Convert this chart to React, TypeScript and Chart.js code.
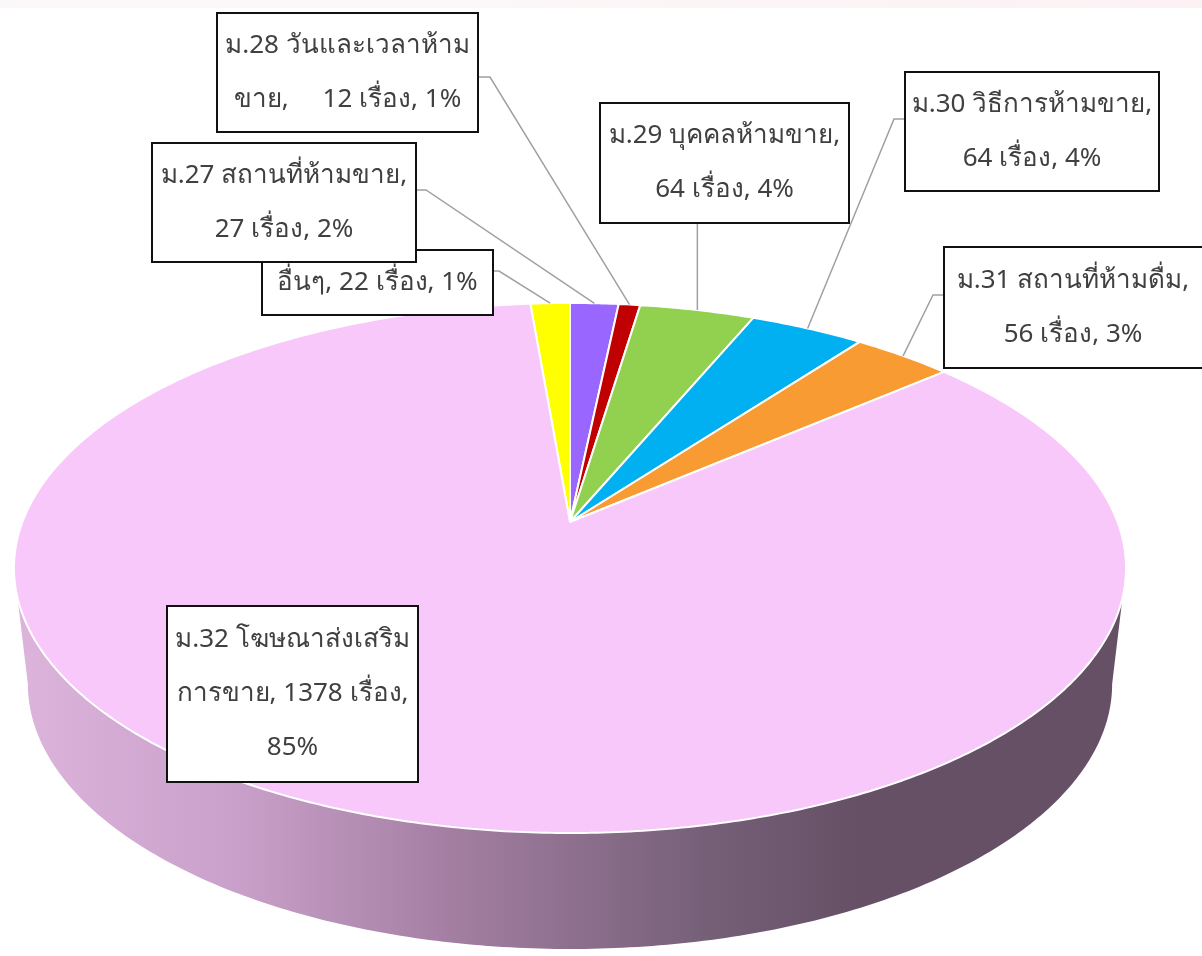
import React, { useEffect, useRef } from 'react';
import { Chart, registerables } from 'chart.js';

Chart.register(...registerables);

// ---------- data ----------
const CATEGORIES = [
  'อื่นๆ',
  'ม.27 สถานที่ห้ามขาย',
  'ม.28 วันและเวลาห้ามขาย',
  'ม.29 บุคคลห้ามขาย',
  'ม.30 วิธีการห้ามขาย',
  'ม.31 สถานที่ห้ามดื่ม',
  'ม.32 โฆษณาส่งเสริมการขาย',
];
const VALUES = [22, 27, 12, 64, 64, 56, 1378];
const UNIT = 'เรื่อง';
const COLORS = ['#FFFF00', '#9966FF', '#C00000', '#92D050', '#00B0F0', '#F99B33', '#F9C8FA'];

// ---------- layout (positions / styles only) ----------
type Leader = { side: 'left' | 'right' | 'bottom'; y?: number; elbow?: number } | null;
const LABEL_LAYOUT: { box: [number, number, number, number]; breaks: string[]; gap?: boolean; leader: Leader }[] = [
  { box: [262, 250, 493, 315], breaks: [], leader: { side: 'right', y: 271, elbow: 499 } },
  { box: [152, 143, 416, 262], breaks: ['ขาย,'], leader: { side: 'right', y: 190, elbow: 426 } },
  { box: [217, 13, 478, 132], breaks: ['ห้าม'], gap: true, leader: { side: 'right', y: 77, elbow: 490 } },
  { box: [600, 103, 849, 223], breaks: ['ขาย,'], leader: { side: 'bottom' } },
  { box: [905, 72, 1159, 191], breaks: ['ขาย,'], leader: { side: 'left', y: 119, elbow: 894 } },
  { box: [944, 247, 1206, 368], breaks: ['ดื่ม,'], leader: { side: 'left', y: 295, elbow: 933 } },
  { box: [167, 606, 418, 782], breaks: ['ส่งเสริม', 'เรื่อง,'], leader: null },
];

// perspective view of the pie's top face
const VIEW = { cx: 570, cy: 522, b: 166.4, c: -0.17358, k: 547.6, depth: 116, shrink: 0.975 };
const FONT = '26px "Noto Sans", "DejaVu Sans", sans-serif';
const LINE_H = 54;

const TAU = Math.PI * 2;

function makeProjector(ex: number, ey: number, R: number) {
  return (x: number, y: number): [number, number] => {
    const u = (x - ex) / R;
    const v = (y - ey) / R;
    const w = 1 + VIEW.c * v;
    return [VIEW.cx + (VIEW.k * u) / w, (VIEW.cy + VIEW.b * v) / w];
  };
}

function projectedCtx(ctx: CanvasRenderingContext2D, P: (x: number, y: number) => [number, number]) {
  return new Proxy(ctx, {
    get(t: any, prop: any) {
      if (prop === 'moveTo') return (x: number, y: number) => { const [X, Y] = P(x, y); t.moveTo(X, Y); };
      if (prop === 'lineTo') return (x: number, y: number) => { const [X, Y] = P(x, y); t.lineTo(X, Y); };
      if (prop === 'arc') {
        return (x: number, y: number, r: number, a0: number, a1: number, ccw?: boolean) => {
          if (!(r > 0) || !isFinite(a0) || !isFinite(a1)) {
            const [X, Y] = P(x, y);
            t.lineTo(X, Y);
            return;
          }
          let sweep: number;
          if (!ccw) {
            sweep = a1 - a0;
            sweep = sweep >= TAU ? TAU : ((sweep % TAU) + TAU) % TAU;
          } else {
            sweep = a0 - a1;
            sweep = sweep >= TAU ? TAU : ((sweep % TAU) + TAU) % TAU;
            sweep = -sweep;
          }
          const n = Math.max(2, Math.ceil(Math.abs(sweep) / 0.01));
          for (let i = 0; i <= n; i++) {
            const a = a0 + (sweep * i) / n;
            const [X, Y] = P(x + r * Math.cos(a), y + r * Math.sin(a));
            t.lineTo(X, Y);
          }
        };
      }
      const v = t[prop];
      return typeof v === 'function' ? v.bind(t) : v;
    },
    set(t: any, prop: any, value: any) {
      t[prop] = value;
      return true;
    },
  });
}

const pie3d = {
  id: 'pie3d',
  beforeDatasetDraw(chart: any, args: any) {
    const ctx: CanvasRenderingContext2D = chart.ctx;
    const els = args.meta.data;
    if (!els.length) return false;
    const el0 = els[0];
    const P = makeProjector(el0.x, el0.y, el0.outerRadius);
    const R = el0.outerRadius;
    const rim = (a: number) => P(el0.x + R * Math.cos(a), el0.y + R * Math.sin(a));
    const bottom = (p: [number, number]): [number, number] => [
      VIEW.cx + (p[0] - VIEW.cx) * VIEW.shrink,
      p[1] + VIEW.depth,
    ];
    // side wall
    const a1 = Math.asin(-VIEW.c);
    const a2 = Math.PI - a1;
    const N = 240;
    ctx.save();
    ctx.beginPath();
    for (let i = 0; i <= N; i++) {
      const p = rim(a1 + ((a2 - a1) * i) / N);
      if (i === 0) ctx.moveTo(p[0], p[1]); else ctx.lineTo(p[0], p[1]);
    }
    for (let i = N; i >= 0; i--) {
      const p = bottom(rim(a1 + ((a2 - a1) * i) / N));
      ctx.lineTo(p[0], p[1]);
    }
    ctx.closePath();
    const left = rim(a2)[0];
    const right = rim(a1)[0];
    const g = ctx.createLinearGradient(left, 0, right, 0);
    g.addColorStop(0, '#DCB4DC');
    g.addColorStop(0.2, '#C9A0C9');
    g.addColorStop(0.39, '#A47FA3');
    g.addColorStop(0.5, '#8E708E');
    g.addColorStop(0.62, '#766078');
    g.addColorStop(0.76, '#655066');
    g.addColorStop(1, '#655066');
    ctx.fillStyle = g;
    ctx.fill();
    ctx.restore();

    // top face: the library's own arc elements, drawn through the perspective
    const pctx = projectedCtx(ctx, P);
    els.forEach((el: any) => el.draw(pctx, chart.chartArea));
    return false;
  },
};

function labelLines(i: number, total: number, breaks: string[], gap?: boolean) {
  const pct = Math.round((VALUES[i] / total) * 100);
  let rest = `${CATEGORIES[i]}, ${VALUES[i]} ${UNIT}, ${pct}%`;
  const lines: string[] = [];
  for (const b of breaks) {
    const idx = rest.indexOf(b);
    if (idx < 0) continue;
    lines.push(rest.slice(0, idx + b.length).trim());
    rest = rest.slice(idx + b.length).trim();
  }
  lines.push(rest);
  if (gap && lines.length > 1) lines[1] = lines[1].replace(', ', ',     ');
  return lines;
}

const labelsPlugin = {
  id: 'boxLabels',
  afterDraw(chart: any) {
    const ctx: CanvasRenderingContext2D = chart.ctx;
    const meta = chart.getDatasetMeta(0);
    const els = meta.data;
    if (!els.length) return;
    const el0 = els[0];
    const P = makeProjector(el0.x, el0.y, el0.outerRadius);
    const total = VALUES.reduce((s, v) => s + v, 0);
    ctx.save();
    LABEL_LAYOUT.forEach((lay, i) => {
      const el = els[i];
      const mid = (el.startAngle + el.endAngle) / 2;
      const anchor = P(el.x + el.outerRadius * Math.cos(mid), el.y + el.outerRadius * Math.sin(mid));
      const [x1, y1, x2, y2] = lay.box;
      // leader line
      if (lay.leader) {
        ctx.beginPath();
        ctx.strokeStyle = '#A0A0A0';
        ctx.lineWidth = 1.5;
        if (lay.leader.side === 'bottom') {
          ctx.moveTo(anchor[0], y2);
        } else {
          const sx = lay.leader.side === 'right' ? x2 : x1;
          ctx.moveTo(sx, lay.leader.y!);
          ctx.lineTo(lay.leader.elbow!, lay.leader.y!);
        }
        ctx.lineTo(anchor[0], anchor[1]);
        ctx.stroke();
      }
      // box
      ctx.fillStyle = '#FFFFFF';
      ctx.fillRect(x1, y1, x2 - x1, y2 - y1);
      ctx.strokeStyle = '#111111';
      ctx.lineWidth = 2;
      ctx.strokeRect(x1, y1, x2 - x1, y2 - y1);
      // text
      const lines = labelLines(i, total, lay.breaks, lay.gap);
      ctx.fillStyle = '#404040';
      ctx.font = FONT;
      ctx.textAlign = 'center';
      ctx.textBaseline = 'middle';
      const cx = (x1 + Math.min(x2, 1202)) / 2;
      const cy = (y1 + y2) / 2;
      lines.forEach((t, j) => {
        ctx.fillText(t, cx, cy + (j - (lines.length - 1) / 2) * LINE_H);
      });
    });
    ctx.restore();
  },
};

export default function App() {
  const ref = useRef<HTMLCanvasElement | null>(null);
  useEffect(() => {
    if (!ref.current) return;
    const total = VALUES.reduce((s, v) => s + v, 0);
    const chart = new Chart(ref.current, {
      type: 'pie',
      data: {
        labels: CATEGORIES,
        datasets: [
          {
            data: VALUES,
            backgroundColor: COLORS,
            borderColor: '#FFFFFF',
            borderWidth: 2,
          },
        ],
      },
      options: {
        responsive: false,
        animation: false,
        events: [],
        rotation: -(VALUES[0] / total) * 360,
        layout: { padding: 0 },
        plugins: { legend: { display: false }, tooltip: { enabled: false } },
      },
      plugins: [pie3d, labelsPlugin],
    } as any);
    return () => chart.destroy();
  }, []);
  return (
    <div style={{ position: 'fixed', left: 0, top: 0, width: 1202, height: 956, background: '#FFFFFF' }}>
      <div
        style={{
          position: 'absolute',
          left: 0,
          top: 0,
          width: 1202,
          height: 8,
          background: 'linear-gradient(90deg, #FBF8F9, #FCF6F7 50%, #FDF1F4)',
        }}
      />
      <canvas ref={ref} width={1202} height={956} style={{ display: 'block', position: 'absolute', left: 0, top: 0 }} />
    </div>
  );
}
